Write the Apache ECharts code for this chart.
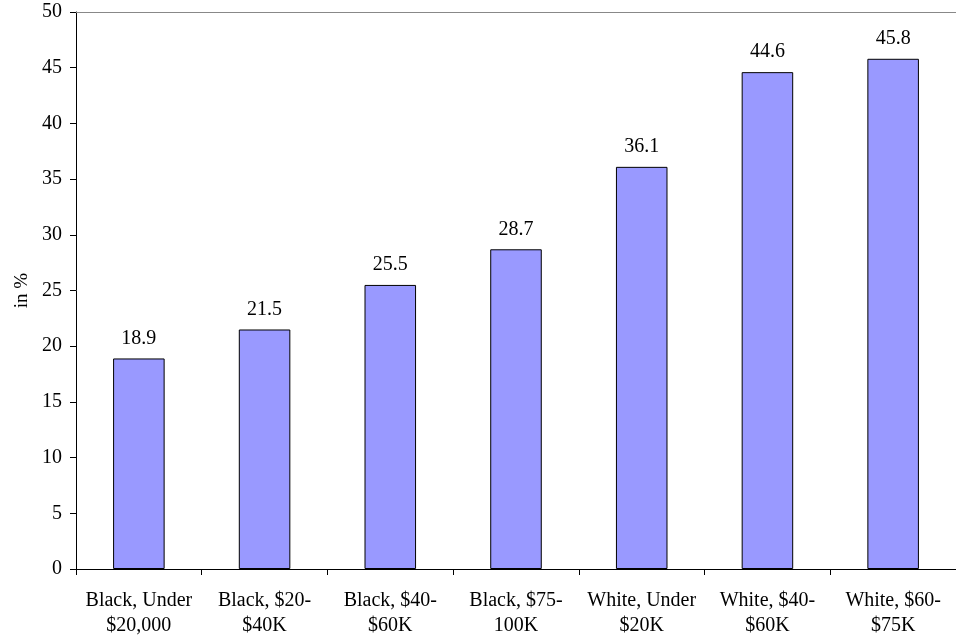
<!DOCTYPE html>
<html lang="en">
<head>
    <meta charset="UTF-8">
    <title>Chart</title>
    <script src="https://cdn.jsdelivr.net/npm/echarts@6/dist/echarts.min.js"></script>
    <style>
        html, body { margin: 0; padding: 0; background: #fff; }
    </style>
</head>
<body>
<div id="main" style="width: 956px;height:638px;"></div>
<script type="text/javascript">
    var categories = ['Black, Under\n$20,000', 'Black, $20-\n$40K', 'Black, $40-\n$60K', 'Black, $75-\n100K',
        'White, Under\n$20K', 'White, $40-\n$60K', 'White, $60-\n$75K'];
    var values = [18.9, 21.5, 25.5, 28.7, 36.1, 44.6, 45.8];
    var yTicks = [0, 5, 10, 15, 20, 25, 30, 35, 40, 45, 50];

    var font = 'Liberation Serif';
    var chart = echarts.init(document.getElementById('main'));

    var option = {
        animation: false,
        backgroundColor: '#fff',
        grid: {
            left: 76,
            right: 0,
            top: 12,
            bottom: 68
        },
        xAxis: {
            type: 'category',
            data: categories,
            axisLine: { lineStyle: { color: '#000', width: 1 } },
            axisTick: { show: true, length: 6, lineStyle: { color: '#000' } },
            axisLabel: {
                color: '#000',
                fontFamily: font,
                fontSize: 20,
                lineHeight: 25,
                margin: 19,
                interval: 0
            }
        },
        yAxis: {
            type: 'value',
            min: yTicks[0],
            max: yTicks[yTicks.length - 1],
            interval: 5,
            name: 'in %',
            nameLocation: 'middle',
            nameGap: 42,
            nameTextStyle: { color: '#000', fontFamily: font, fontSize: 19 },
            axisLine: { show: true, lineStyle: { color: '#000', width: 1 } },
            axisTick: { show: true, length: 6, lineStyle: { color: '#000' } },
            axisLabel: { color: '#000', fontFamily: font, fontSize: 20, margin: 14 },
            splitLine: { show: false }
        },
        series: [{
            type: 'bar',
            data: values,
            barWidth: '41%',
            itemStyle: {
                color: '#9999ff',
                borderColor: '#000',
                borderWidth: 1
            },
            label: {
                show: true,
                position: 'top',
                distance: 10,
                color: '#000',
                fontFamily: font,
                fontSize: 20
            },
            markLine: {
                silent: true,
                symbol: 'none',
                label: { show: false },
                lineStyle: { color: '#888', type: 'solid', width: 1 },
                data: [{ yAxis: 50 }]
            }
        }]
    };

    chart.setOption(option);
</script>
</body>
</html>
